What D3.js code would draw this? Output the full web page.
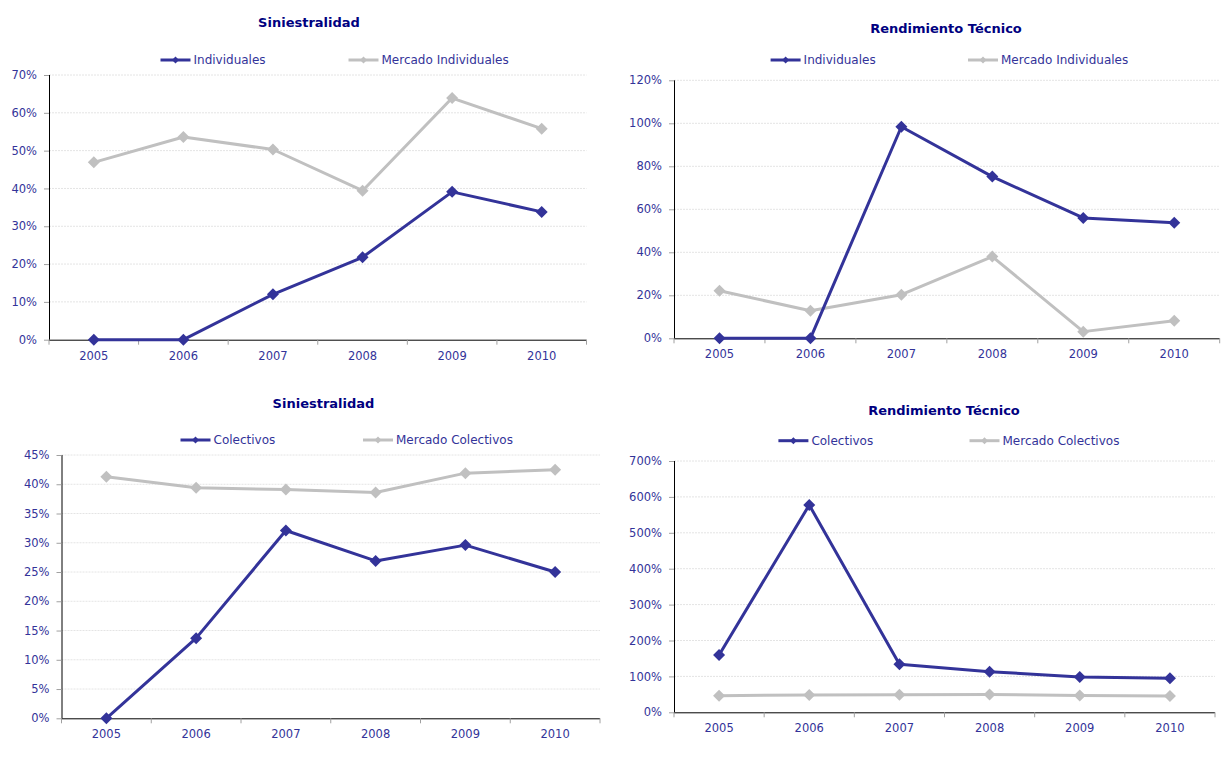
<!DOCTYPE html>
<html>
<head>
<meta charset="utf-8">
<script src="https://cdn.jsdelivr.net/npm/d3@7"></script>
<style>
    body { margin: 0; background: #fff; }
    svg text { font-family: "DejaVu Sans", Verdana, sans-serif; }
    .tick line { stroke: #a0a0a0; }
    .domain { stroke: #000; }
</style>
</head>
<body>
<svg id="canvas" width="1228" height="763"></svg>
<script>
// data, values in %
const years = ["2005", "2006", "2007", "2008", "2009", "2010"];

const sinIndividuales = [0, 0, 12.0, 21.8, 39.1, 33.8];
const sinMercadoIndividuales = [46.9, 53.6, 50.3, 39.4, 63.9, 55.8];

const rtIndividuales = [0, 0, 98.4, 75.2, 56.0, 53.8];
const rtMercadoIndividuales = [22.1, 12.8, 20.3, 38.0, 3.1, 8.2];

const sinColectivos = [0, 13.7, 32.1, 26.9, 29.6, 25.0];
const sinMercadoColectivos = [41.3, 39.4, 39.1, 38.6, 41.9, 42.5];

const rtColectivos = [159.6, 577.5, 133.7, 113.1, 98.3, 94.7];
const rtMercadoColectivos = [46.2, 48.2, 49.0, 49.9, 47.0, 45.3];

const blue = "#333399";
const grey = "#c0c0c0";

// layout of each panel
const charts = [
    {
        title: "Siniestralidad", titleX: 309, titleY: 22,
        left: 49, right: 586.5, top: 75, bottom: 339.7,
        max: 70, step: 10, legendY: 60,
        series: [
            {name: "Individuales", values: sinIndividuales, color: blue, lx: 160.5},
            {name: "Mercado Individuales", values: sinMercadoIndividuales, color: grey, lx: 348.5}
        ]
    },
    {
        title: "Rendimiento Técnico", titleX: 946, titleY: 28,
        left: 674, right: 1219.7, top: 80.3, bottom: 338.3,
        max: 120, step: 20, legendY: 60,
        series: [
            {name: "Individuales", values: rtIndividuales, color: blue, lx: 770.6},
            {name: "Mercado Individuales", values: rtMercadoIndividuales, color: grey, lx: 968}
        ]
    },
    {
        title: "Siniestralidad", titleX: 323.5, titleY: 403.5,
        left: 61.5, right: 600, top: 455, bottom: 718.3,
        max: 45, step: 5, legendY: 440,
        series: [
            {name: "Colectivos", values: sinColectivos, color: blue, lx: 180.5},
            {name: "Mercado Colectivos", values: sinMercadoColectivos, color: grey, lx: 363}
        ]
    },
    {
        title: "Rendimiento Técnico", titleX: 944, titleY: 410,
        left: 674, right: 1215, top: 461, bottom: 712.3,
        max: 700, step: 100, legendY: 440.7,
        series: [
            {name: "Colectivos", values: rtColectivos, color: blue, lx: 778.4},
            {name: "Mercado Colectivos", values: rtMercadoColectivos, color: grey, lx: 969.5}
        ]
    }
];

const svg = d3.select("#canvas");

function diamond(r) {
    return `M0,${-r}L${r},0L0,${r}L${-r},0Z`;
}

charts.forEach(c => {
    let g = svg.append("g");

    let x = d3.scaleBand()
        .domain(years)
        .range([c.left, c.right]);
    let y = d3.scaleLinear()
        .domain([0, c.max])
        .range([c.bottom, c.top]);
    let ticks = d3.range(0, c.max + c.step / 2, c.step);

    // gridlines
    g.append("g")
        .selectAll("line")
        .data(ticks.filter(t => t > 0))
        .enter()
        .append("line")
        .attr("x1", c.left)
        .attr("x2", c.right)
        .attr("y1", d => y(d))
        .attr("y2", d => y(d))
        .attr("stroke", "#e4e4e4")
        .attr("stroke-width", 1)
        .attr("stroke-dasharray", "2,1");

    // y axis
    let yAxis = g.append("g")
        .attr("transform", `translate(${c.left},0)`)
        .call(d3.axisLeft(y)
            .tickValues(ticks)
            .tickSize(5)
            .tickPadding(7)
            .tickFormat(d => d + "%"));
    yAxis.select(".domain").attr("d", `M0.5,${c.top}V${c.bottom}`);
    yAxis.selectAll("text")
        .attr("fill", blue)
        .style("font-size", "11.5px");

    // x axis, ticks between categories
    let xAxis = g.append("g")
        .attr("transform", `translate(0,${c.bottom})`)
        .call(d3.axisBottom(x).tickSize(0).tickPadding(12));
    xAxis.select(".domain").attr("d", `M${c.left},0.5H${c.right}`);
    xAxis.selectAll("text")
        .attr("fill", blue)
        .style("font-size", "11.5px");
    xAxis.selectAll("line.sep")
        .data(years.map(yr => x(yr)).concat([c.right]))
        .enter()
        .append("line")
        .attr("class", "sep")
        .attr("x1", d => d)
        .attr("x2", d => d)
        .attr("y1", 0)
        .attr("y2", 5)
        .attr("stroke", "#a0a0a0");

    // title
    g.append("text")
        .attr("x", c.titleX)
        .attr("y", c.titleY)
        .attr("dy", "0.35em")
        .attr("text-anchor", "middle")
        .attr("fill", "#000080")
        .style("font-weight", "bold")
        .style("font-size", "13px")
        .text(c.title);

    // lines, grey series drawn first
    let line = d3.line()
        .x((d, i) => x(years[i]) + x.bandwidth() / 2)
        .y(d => y(d));

    c.series.slice().reverse().forEach(s => {
        g.append("path")
            .datum(s.values)
            .attr("d", line)
            .attr("fill", "none")
            .attr("stroke", s.color)
            .attr("stroke-width", 3)
            .attr("stroke-linejoin", "round");
        g.selectAll(null)
            .data(s.values)
            .enter()
            .append("path")
            .attr("d", diamond(6))
            .attr("transform", (d, i) => `translate(${x(years[i]) + x.bandwidth() / 2},${y(d)})`)
            .attr("fill", s.color);
    });

    // legend
    c.series.forEach(s => {
        let lg = g.append("g")
            .attr("transform", `translate(${s.lx},${c.legendY})`);
        lg.append("line")
            .attr("x1", 0)
            .attr("x2", 30)
            .attr("stroke", s.color)
            .attr("stroke-width", 3);
        lg.append("path")
            .attr("d", diamond(3.5))
            .attr("transform", "translate(15,0)")
            .attr("fill", s.color);
        lg.append("text")
            .attr("x", 33)
            .attr("dy", "0.35em")
            .attr("fill", blue)
            .style("font-size", "12px")
            .text(s.name);
    });
});
</script>
</body>
</html>
